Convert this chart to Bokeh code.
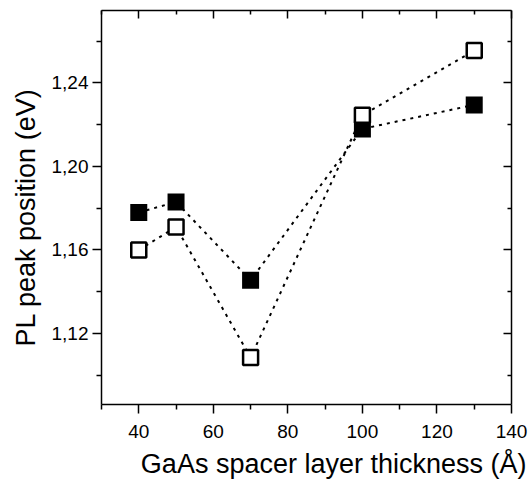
from bokeh.plotting import figure
from bokeh.models import FixedTicker, LinearAxis, Title, Range1d, CustomJSTickFormatter
from bokeh.embed import file_html
from bokeh.resources import INLINE

# ---- data ----
thickness = [40, 50, 70, 100, 130]
pl_filled = [1.178, 1.183, 1.1455, 1.218, 1.2295]
pl_open = [1.160, 1.171, 1.1085, 1.2245, 1.2555]

x_ticks = [40, 60, 80, 100, 120, 140]
x_minor = [30, 50, 70, 90, 110, 130]
y_ticks = [1.12, 1.16, 1.20, 1.24]
y_tick_labels = ["1,12", "1,16", "1,20", "1,24"]
y_minor = [1.10, 1.14, 1.18, 1.22, 1.26]

x_label = "GaAs spacer layer thickness (Å)"
y_label = "PL peak position (eV)"

FONT = "Liberation Sans"

p = figure(width=531, height=485,
           x_range=Range1d(30, 140), y_range=Range1d(1.086, 1.2747),
           output_backend="svg", toolbar_location=None,
           min_border_left=101, min_border_right=20,
           min_border_top=10, min_border_bottom=80)

p.xgrid.visible = False
p.ygrid.visible = False
p.outline_line_color = None
p.background_fill_color = "white"
p.border_fill_color = "white"

xt = FixedTicker(ticks=x_ticks, minor_ticks=x_minor)
yt = FixedTicker(ticks=y_ticks, minor_ticks=y_minor)

bottom = p.xaxis[0]
left = p.yaxis[0]
bottom.ticker = xt
left.ticker = yt
left.major_label_overrides = dict(zip(y_ticks, y_tick_labels))

blank = CustomJSTickFormatter(code="return '';")
top = LinearAxis(ticker=xt, formatter=blank)
right = LinearAxis(ticker=yt, formatter=blank)
p.add_layout(top, "above")
p.add_layout(right, "right")

for ax in [bottom, left]:
    ax.major_tick_out = 9
    ax.major_tick_in = 0
    ax.minor_tick_out = 5
    ax.minor_tick_in = 0
    ax.major_label_text_font = FONT
    ax.major_label_text_font_size = "19px"
    ax.major_label_text_color = "black"
    ax.major_label_standoff = 4
bottom.major_label_standoff = 11

for ax in [top, right]:
    ax.major_tick_out = 0
    ax.major_tick_in = 8
    ax.minor_tick_out = 0
    ax.minor_tick_in = 4
    ax.major_label_standoff = 0

for ax in [bottom, left, top, right]:
    ax.axis_line_width = 1.5
    ax.axis_line_color = "black"
    ax.major_tick_line_width = 1.5
    ax.minor_tick_line_width = 1.5
    ax.major_tick_line_color = "black"
    ax.minor_tick_line_color = "black"

tx = Title(text=x_label, align="right", offset=-15, text_font=FONT,
           text_font_size="27px", text_font_style="normal", text_color="black",
           standoff=13, vertical_align="bottom", text_line_height=0.8)
p.add_layout(tx, "below")
ty = Title(text=y_label, align="left", offset=58, text_font=FONT,
           text_font_size="27px", text_font_style="normal", text_color="black",
           standoff=15, vertical_align="bottom")
p.add_layout(ty, "left")

p.line(thickness, pl_filled, line_dash="3 5", line_width=2, line_color="black")
p.line(thickness, pl_open, line_dash="3 5", line_width=2, line_color="black")
p.scatter(thickness, pl_filled, marker="square", size=17,
          fill_color="black", line_color=None)
p.scatter(thickness, pl_open, marker="square", size=15,
          fill_color="white", line_color="black", line_width=2.5)

open("out.html", "w").write(file_html(p, INLINE))
